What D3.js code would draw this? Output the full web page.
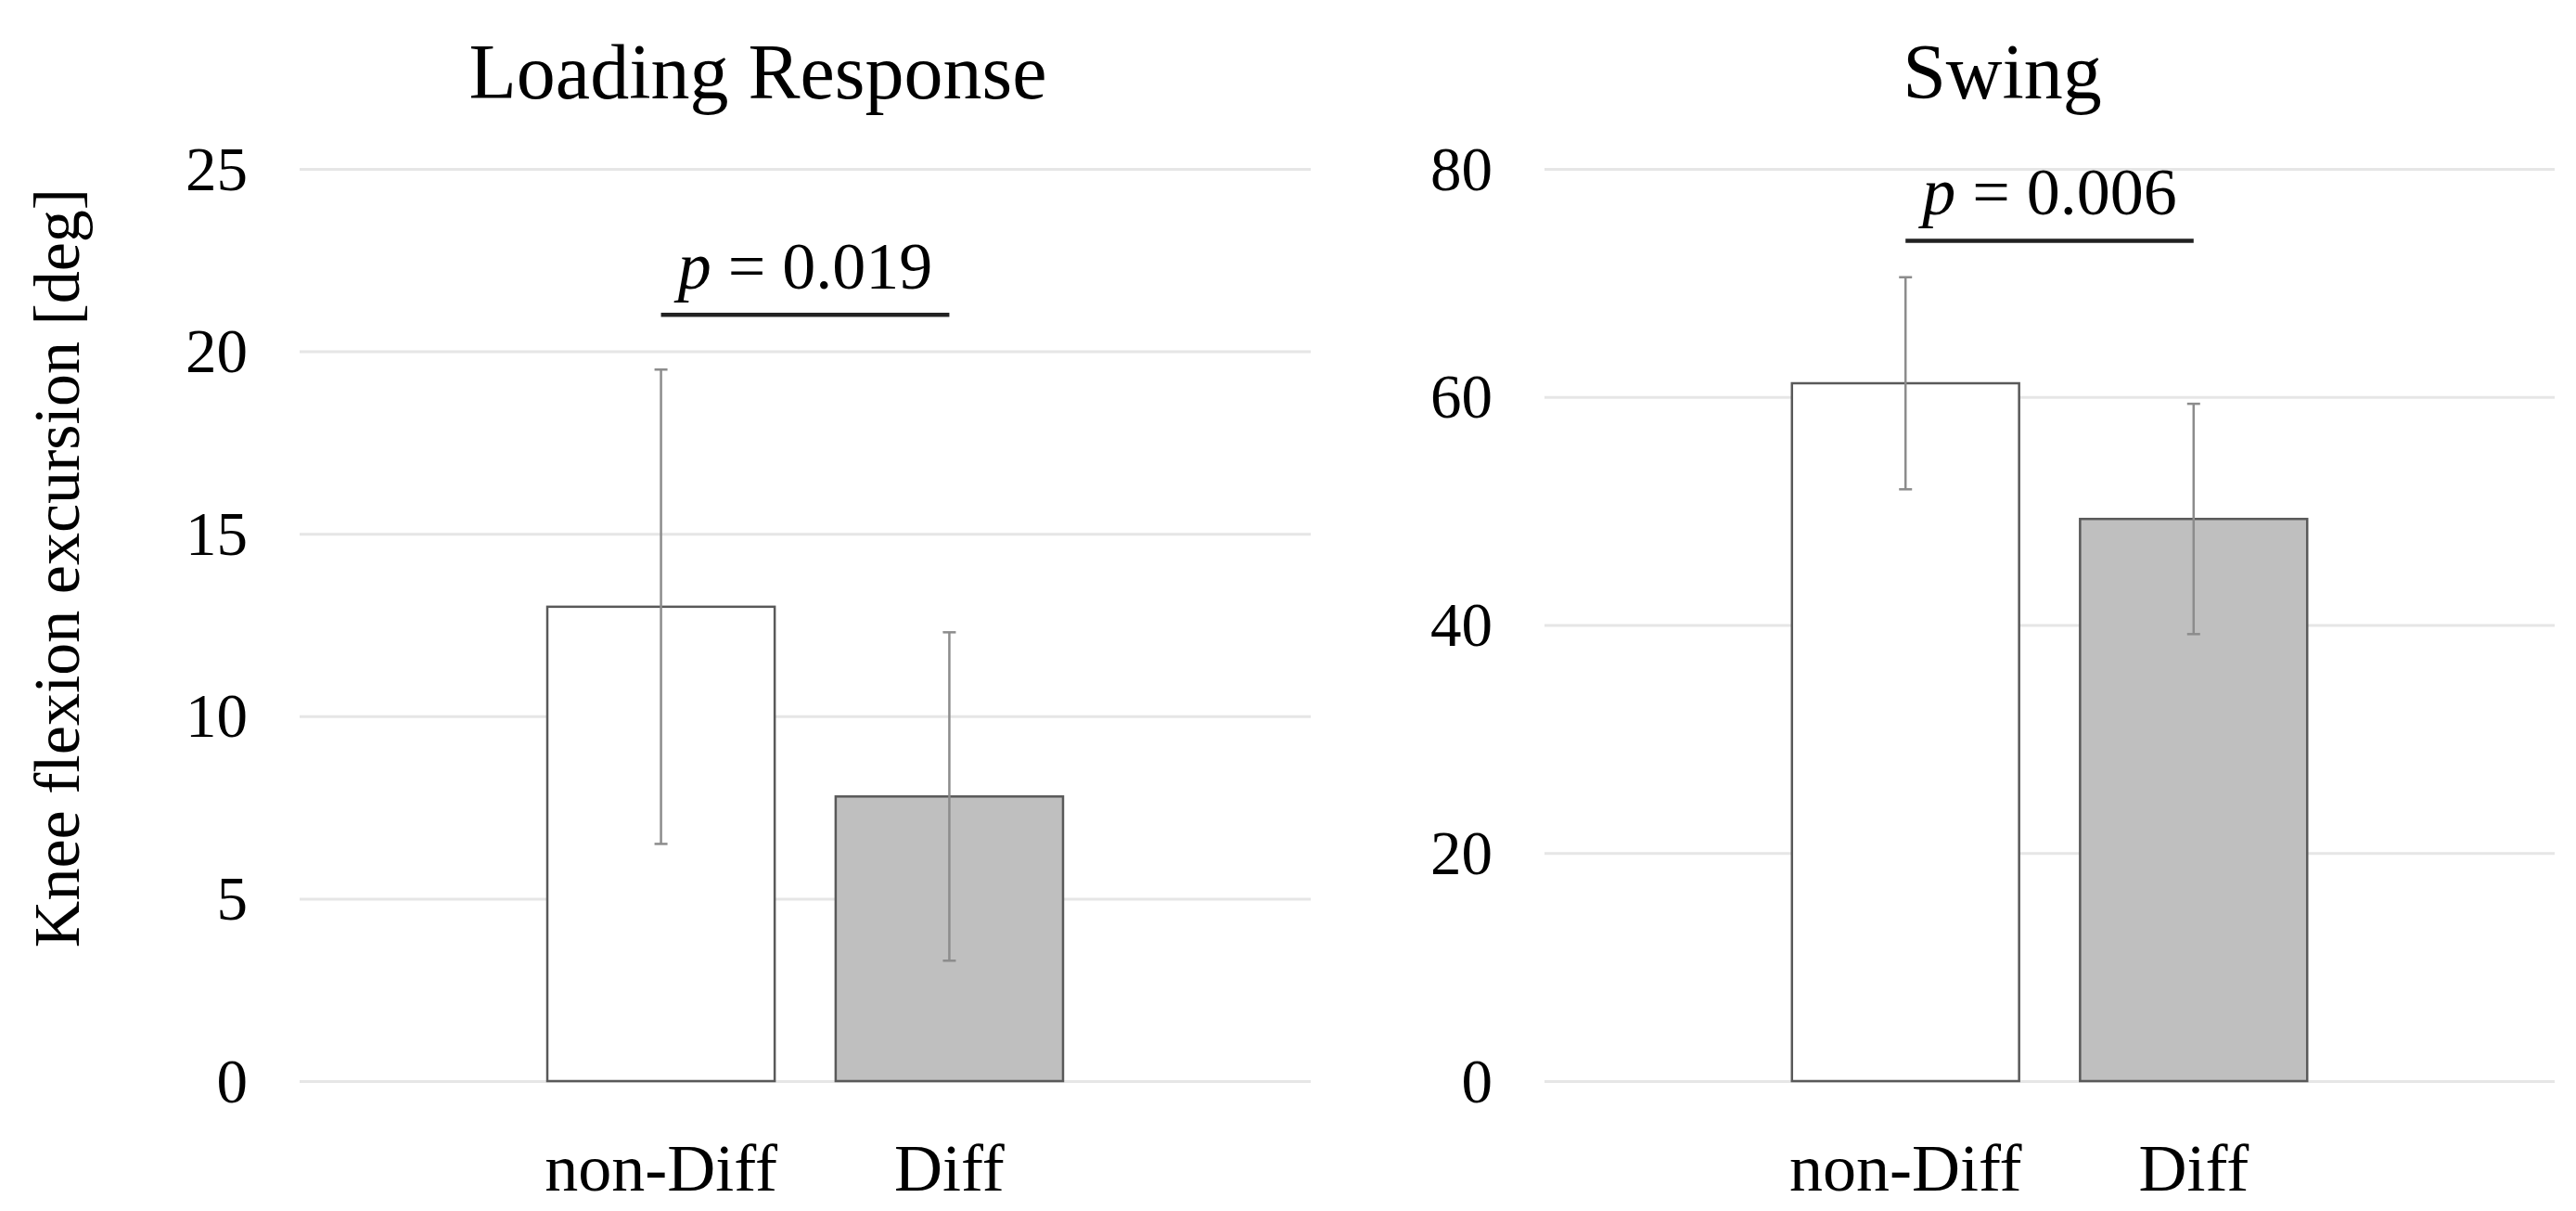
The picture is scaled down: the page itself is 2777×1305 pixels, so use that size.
<!DOCTYPE html>
<html>
<head>
<meta charset="utf-8">
<script src="https://cdn.jsdelivr.net/npm/d3@7"></script>
<style>
  body { margin: 0; background: #fff; }
  text { font-family: "Liberation Serif", "Times New Roman", serif; fill: #000; }
</style>
</head>
<body>
<svg id="chart"></svg>
<script>
const width = 2777;
const height = 1305;

// data
const groups = ["non-Diff", "Diff"];
const panelTitles = ["Loading Response", "Swing"];
const loadingMean = [13.0, 7.8];
const loadingSD = [6.5, 4.5];
const swingMean = [61.2, 49.3];
const swingSD = [9.3, 10.1];
const yMaxes = [25, 80];
const yTicks = [[0, 5, 10, 15, 20, 25], [0, 20, 40, 60, 80]];
const pValues = ["0.019", "0.006"];
const sigHeights = [21.0, 73.7];
const yLabel = "Knee flexion excursion [deg]";

const fills = ["#ffffff", "#bfbfbf"];

const panels = [
    { left: 323, right: 1413, mean: loadingMean, sd: loadingSD },
    { left: 1665, right: 2754, mean: swingMean, sd: swingSD }
];
const plotTop = 182;
const plotBottom = 1165;

const svg = d3.select("#chart")
    .attr("width", width)
    .attr("height", height);

svg.append("rect")
    .attr("width", width)
    .attr("height", height)
    .attr("fill", "#fff");

// y axis title
svg.append("text")
    .attr("transform", "translate(85,612) rotate(-90)")
    .attr("text-anchor", "middle")
    .style("font-size", "70px")
    .text(yLabel);

function drawPanel(p, i) {
    const x = d3.scaleBand()
        .domain(groups)
        .range([p.left, p.right])
        .paddingInner(0.2115)
        .paddingOuter(0.859);
    const y = d3.scaleLinear()
        .domain([0, yMaxes[i]])
        .range([plotBottom, plotTop]);

    const g = svg.append("g");

    // gridlines + tick labels
    const yAxis = g.append("g")
        .attr("transform", `translate(${p.left},0)`)
        .call(d3.axisLeft(y)
            .tickValues(yTicks[i])
            .tickSize(-(p.right - p.left))
            .tickPadding(56));
    yAxis.select(".domain").remove();
    yAxis.selectAll(".tick line")
        .attr("stroke", "#e6e6e6")
        .attr("stroke-width", 3);
    yAxis.selectAll(".tick text")
        .attr("fill", "#000")
        .attr("dy", "0.33em")
        .style("font-family", "Liberation Serif")
        .style("font-size", "67px");

    // category labels
    const xAxis = g.append("g")
        .attr("transform", `translate(0,${plotBottom})`)
        .call(d3.axisBottom(x).tickSize(0).tickPadding(67));
    xAxis.select(".domain").remove();
    xAxis.selectAll(".tick text")
        .attr("fill", "#000")
        .style("font-family", "Liberation Serif")
        .style("font-size", "72px");

    // bars
    g.selectAll(".bar")
        .data(groups)
        .join("rect")
        .attr("class", "bar")
        .attr("x", d => x(d))
        .attr("width", x.bandwidth())
        .attr("y", (d, j) => y(p.mean[j]))
        .attr("height", (d, j) => y(0) - y(p.mean[j]))
        .attr("fill", (d, j) => fills[j])
        .attr("stroke", "#595959")
        .attr("stroke-width", 2.5);

    // error bars
    const cx = d => x(d) + x.bandwidth() / 2;
    const eb = g.selectAll(".err")
        .data(groups)
        .join("g")
        .attr("class", "err")
        .attr("stroke", "#8c8c8c")
        .attr("stroke-width", 2.5);
    eb.append("line")
        .attr("x1", cx).attr("x2", cx)
        .attr("y1", (d, j) => y(p.mean[j] + p.sd[j]))
        .attr("y2", (d, j) => y(p.mean[j] - p.sd[j]));
    eb.append("line")
        .attr("x1", d => cx(d) - 7).attr("x2", d => cx(d) + 7)
        .attr("y1", (d, j) => y(p.mean[j] + p.sd[j]))
        .attr("y2", (d, j) => y(p.mean[j] + p.sd[j]));
    eb.append("line")
        .attr("x1", d => cx(d) - 7).attr("x2", d => cx(d) + 7)
        .attr("y1", (d, j) => y(p.mean[j] - p.sd[j]))
        .attr("y2", (d, j) => y(p.mean[j] - p.sd[j]));

    // significance bracket
    const sx1 = cx(groups[0]);
    const sx2 = cx(groups[1]);
    g.append("line")
        .attr("x1", sx1).attr("x2", sx2)
        .attr("y1", y(sigHeights[i])).attr("y2", y(sigHeights[i]))
        .attr("stroke", "#222")
        .attr("stroke-width", 4.5);
    const pt = g.append("text")
        .attr("x", (sx1 + sx2) / 2)
        .attr("y", y(sigHeights[i]) - 28)
        .attr("text-anchor", "middle")
        .style("font-size", "72px");
    pt.append("tspan").style("font-style", "italic").text("p");
    pt.append("tspan").text(" = " + pValues[i]);

    // panel title
    g.append("text")
        .attr("x", (p.left + p.right) / 2 - 51)
        .attr("y", 106)
        .attr("text-anchor", "middle")
        .style("font-size", "84px")
        .text(panelTitles[i]);
}

panels.forEach(drawPanel);
</script>
</body>
</html>
